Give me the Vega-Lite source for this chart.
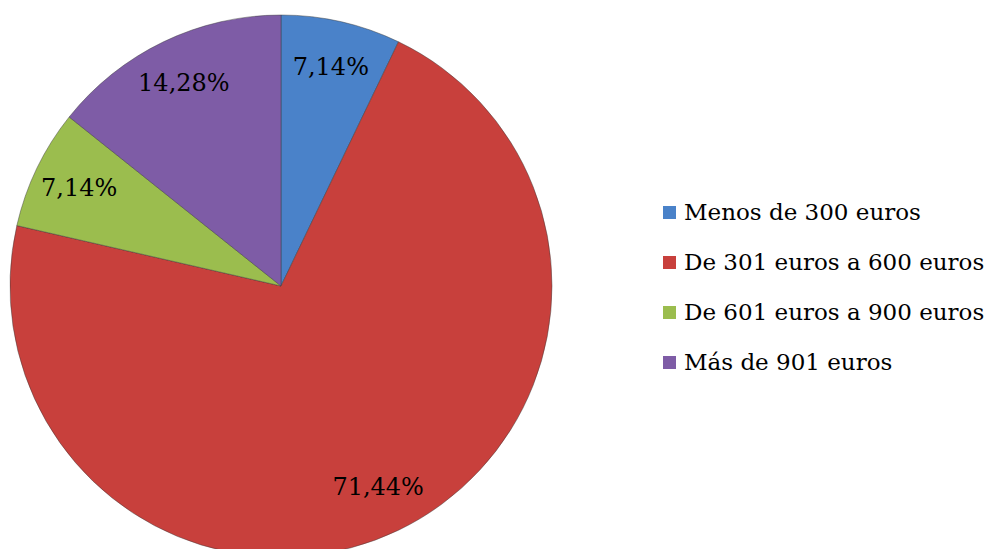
{
  "$schema": "https://vega.github.io/schema/vega-lite/v6.json",
  "autosize": {"type": "none"},
  "width": 562,
  "height": 572,
  "padding": {"left": 0, "top": 0, "right": 427, "bottom": 0},
  "background": "white",
  "config": {"view": {"stroke": null}, "font": "DejaVu Serif", "text": {"font": "DejaVu Serif"}, "legend": {"labelFont": "DejaVu Serif"}},
  "data": {
    "values": [
      {"rango": "Menos de 300 euros", "pct": 7.14, "label": "7,14%", "orden": 1},
      {"rango": "De 301 euros a 600 euros", "pct": 71.44, "label": "71,44%", "orden": 2},
      {"rango": "De 601 euros a 900 euros", "pct": 7.14, "label": "7,14%", "orden": 3},
      {"rango": "Más de 901 euros", "pct": 14.28, "label": "14,28%", "orden": 4}
    ]
  },
  "encoding": {
    "theta": {"field": "pct", "type": "quantitative", "stack": true},
    "order": {"field": "orden", "type": "ordinal"}
  },
  "layer": [
    {
      "mark": {"type": "arc", "outerRadius": 271, "stroke": "#3a3a3a", "strokeOpacity": 0.45, "strokeWidth": 1},
      "encoding": {
        "color": {
          "field": "rango",
          "type": "nominal",
          "sort": ["Menos de 300 euros", "De 301 euros a 600 euros", "De 601 euros a 900 euros", "Más de 901 euros"],
          "scale": {
            "domain": ["Menos de 300 euros", "De 301 euros a 600 euros", "De 601 euros a 900 euros", "Más de 901 euros"],
            "range": ["#4a82c9", "#c8403c", "#9bbd4e", "#7e5ca6"]
          },
          "legend": {
            "title": null,
            "orient": "none",
            "legendX": 658,
            "legendY": 201,
            "symbolType": "square",
            "symbolSize": 170,
            "symbolStrokeWidth": 0,
            "labelFontSize": 23,
            "labelColor": "#000000",
            "labelOffset": 3,
            "labelLimit": 400,
            "rowPadding": 26
          }
        }
      }
    },
    {
      "mark": {"type": "text", "radius": 224, "fontSize": 24, "color": "#000000"},
      "encoding": {
        "text": {"field": "label", "type": "nominal"}
      }
    }
  ]
}
